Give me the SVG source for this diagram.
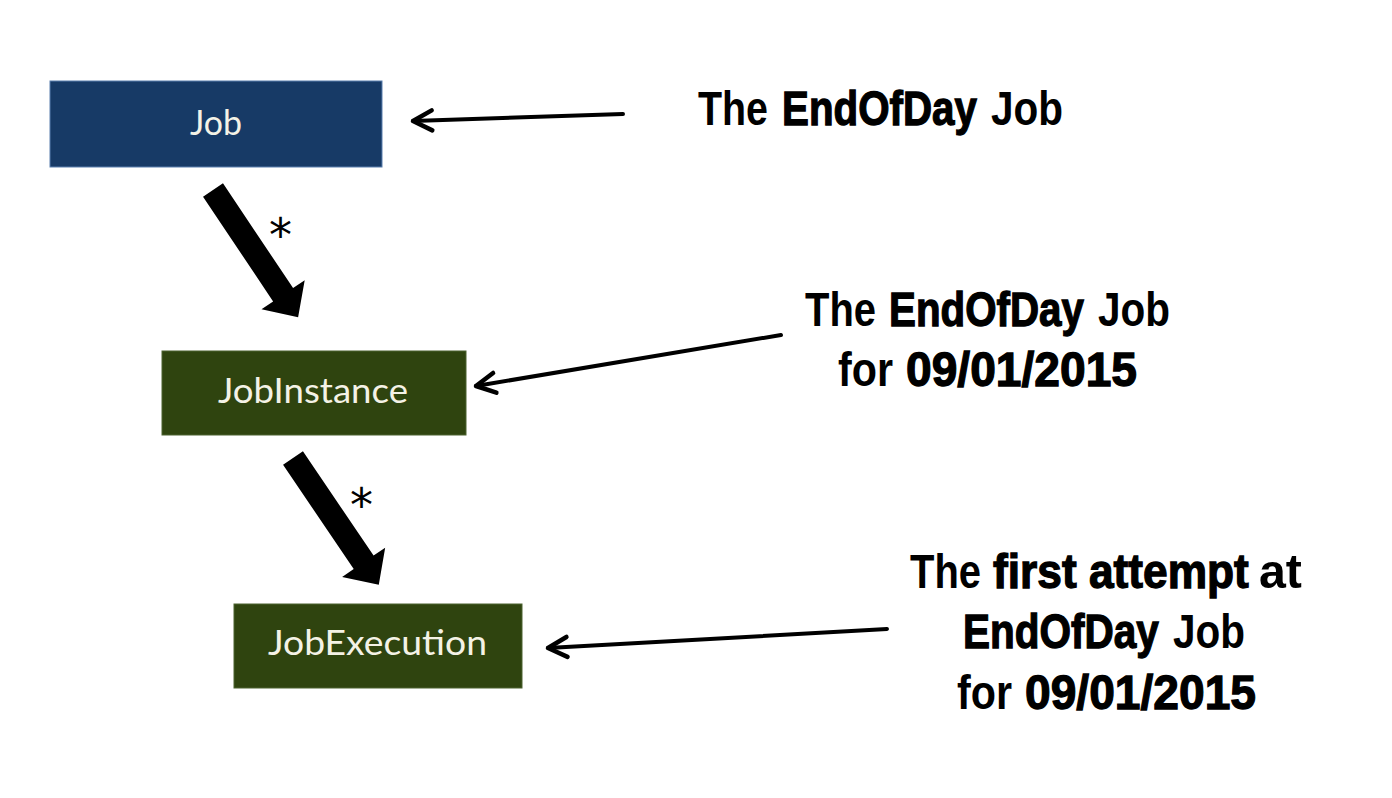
<svg xmlns="http://www.w3.org/2000/svg" width="1392" height="798" viewBox="0 0 1392 798">
<style>
.box-blue{fill:#173a66;stroke:#5a7fae;stroke-width:1}
.box-green{fill:#2f440f;stroke:#4d6330;stroke-width:1}
.nlabel{font-family:Lato,"Open Sans","Noto Sans",sans-serif;font-size:34px;fill:#f4f2e6}
.note{font-family:"Liberation Sans",Arial,sans-serif;font-weight:700;font-size:49px;fill:#000}
.heavy{stroke:#000;stroke-width:1.3}
.thin{fill:none;stroke:#000;stroke-width:4;stroke-linecap:round;stroke-linejoin:round}
.star{font-family:"DejaVu Sans",sans-serif;font-size:46px;fill:#000}
</style>
<defs>
<marker id="chev" markerUnits="userSpaceOnUse" orient="auto" refX="0" refY="0" markerWidth="40" markerHeight="40" viewBox="-30 -20 40 40" overflow="visible">
<path d="M-19,-10 L0,0 L-19,10" fill="none" stroke="#000" stroke-width="4.5" stroke-linecap="round" stroke-linejoin="round"/>
</marker>
<path id="thick" d="M0,-12 L126,-12 L126,-26 L153,0 L126,26 L126,12 L0,12 Z" fill="#000"/>
</defs>
<rect width="1392" height="798" fill="#fff"/>

<g id="connectors">
<use href="#thick" transform="translate(213,190) rotate(56.2)"/>
<use href="#thick" transform="translate(293,458) rotate(55.9)"/>
<path class="thin" d="M623,114 L413,121" marker-end="url(#chev)"/>
<path class="thin" d="M781,335 L476,386" marker-end="url(#chev)"/>
<path class="thin" d="M887,629 L548,648" marker-end="url(#chev)"/>
<text class="star" x="269" y="251">*</text>
<text class="star" x="350" y="521">*</text>
</g>

<g id="job">
<rect class="box-blue" x="50" y="81" width="332" height="86"/>
<text class="nlabel" x="190" y="135" textLength="52" lengthAdjust="spacingAndGlyphs">Job</text>
</g>
<g id="jobinstance">
<rect class="box-green" x="162" y="351" width="304" height="84"/>
<text class="nlabel" x="218" y="403" textLength="190" lengthAdjust="spacingAndGlyphs">JobInstance</text>
</g>
<g id="jobexecution">
<rect class="box-green" x="234" y="604" width="288" height="84"/>
<text class="nlabel" x="268" y="655" textLength="219" lengthAdjust="spacingAndGlyphs">JobExecution</text>
</g>

<g id="note-job">
<text class="note" transform="translate(698,125) scale(0.804,1)">The</text>
<text class="note heavy" transform="translate(782,125) scale(0.823,1)">EndOfDay</text>
<text class="note" transform="translate(991,125) scale(0.827,1)">Job</text>
</g>
<g id="note-instance">
<text class="note" transform="translate(805,326) scale(0.815,1)">The</text>
<text class="note heavy" transform="translate(889,326) scale(0.823,1)">EndOfDay</text>
<text class="note" transform="translate(1098,326) scale(0.827,1)">Job</text>
<text class="note" transform="translate(838,386) scale(0.842,1)">for</text>
<text class="note heavy" transform="translate(906,386) scale(0.942,1)">09/01/2015</text>
</g>
<g id="note-execution">
<text class="note" transform="translate(910,588) scale(0.815,1)">The</text>
<text class="note heavy" transform="translate(993,588) scale(0.904,1)">first attempt</text>
<text class="note" transform="translate(1259,588) scale(0.986,1)">at</text>
<text class="note heavy" transform="translate(963,648) scale(0.827,1)">EndOfDay</text>
<text class="note" transform="translate(1173,648) scale(0.827,1)">Job</text>
<text class="note" transform="translate(957,709) scale(0.842,1)">for</text>
<text class="note heavy" transform="translate(1025,709) scale(0.942,1)">09/01/2015</text>
</g>
</svg>
